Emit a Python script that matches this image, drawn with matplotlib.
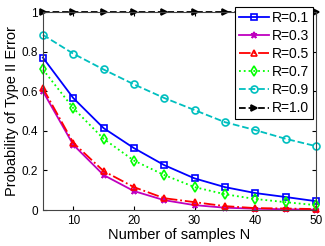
import matplotlib
matplotlib.use("Agg")
import matplotlib.pyplot as plt

plt.rcParams['font.family'] = ['Liberation Sans', 'DejaVu Sans']

# データ
N = [5, 10, 15, 20, 25, 30, 35, 40, 45, 50]
r01 = [0.77, 0.566, 0.414, 0.313, 0.227, 0.16, 0.116, 0.086, 0.066, 0.045]
r03 = [0.60, 0.33, 0.177, 0.096, 0.05, 0.025, 0.012, 0.007, 0.004, 0.002]
r05 = [0.616, 0.34, 0.197, 0.116, 0.06, 0.04, 0.02, 0.01, 0.008, 0.005]
r07 = [0.71, 0.515, 0.36, 0.25, 0.177, 0.116, 0.08, 0.056, 0.04, 0.025]
r09 = [0.885, 0.79, 0.71, 0.635, 0.566, 0.505, 0.444, 0.404, 0.36, 0.323]
r10 = [1.0] * 10

labels = ['R=0.1', 'R=0.3', 'R=0.5', 'R=0.7', 'R=0.9', 'R=1.0']
xticks = [10, 20, 30, 40, 50]
yticks = [0, 0.2, 0.4, 0.6, 0.8, 1]

fig = plt.figure(figsize=(3.25, 2.46), dpi=100)
ax = fig.add_axes([0.132, 0.146, 0.840, 0.805])

series = [
    (r01, 'b', '-', 's', 'none'),
    (r03, 'm', '-', '*', 'm'),
    (r05, 'r', '-.', '^', 'none'),
    (r07, '#00ff00', ':', 'd', 'none'),
    (r09, 'c', '--', 'o', 'none'),
    (r10, 'k', '--', '>', 'k'),
]
for (y, c, ls, mk, fc), lab in zip(series, labels):
    ax.plot(N, y, color=c, linestyle=ls, marker=mk, markersize=5,
            markerfacecolor=fc, markeredgewidth=1.2, linewidth=1.3,
            label=lab, clip_on=False)

ax.set_xlim(5, 50)
ax.set_ylim(0, 1)
ax.set_xticks(xticks)
ax.set_yticks(yticks)
ax.set_yticklabels(['0', '0.2', '0.4', '0.6', '0.8', '1'])
ax.tick_params(direction='in', length=3, labelsize=8.5, top=True, right=True)
for s in ax.spines.values():
    s.set_color('#444444')
ax.set_xlabel('Number of samples N', fontsize=10.5, labelpad=1)
ax.set_ylabel('Probability of Type II Error', fontsize=10.5, labelpad=2)

leg = ax.legend(loc='upper right', bbox_to_anchor=(0.989, 1.025),
                fontsize=10, handlelength=2.2,
                handletextpad=0.2, borderpad=0.25, labelspacing=0.3,
                fancybox=False, framealpha=1, borderaxespad=0)
leg.get_frame().set_edgecolor('black')
leg.get_frame().set_linewidth(0.8)

fig.savefig('out.png', dpi=100)
